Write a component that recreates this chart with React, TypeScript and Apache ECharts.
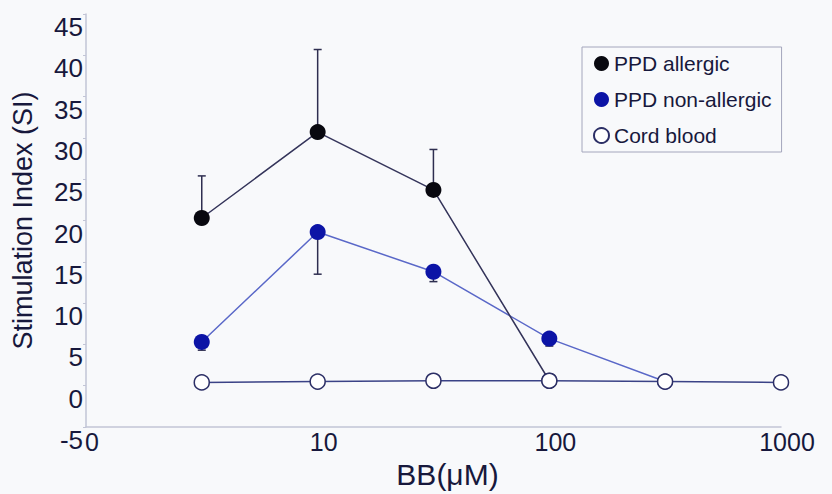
import React, { useEffect, useRef } from "react";
import * as echarts from "echarts";

const concentrations = [3.16, 10, 31.6, 100, 316, 1000];
const allergic = [20.3, 30.7, 23.7, 0.6];
const allergicErr = [5.1, 10.0, 4.9, 0];
const nonAllergic = [5.3, 18.6, 13.8, 5.7, 0.5];
const nonAllergicErr = [1.0, 5.1, 1.2, 0.9, 0];
const cord = [0.4, 0.5, 0.6, 0.6, 0.5, 0.4];
const yTicks = { min: -5, max: 45, step: 5 };

const TEXT = "#17183c";
const FONT = "Liberation Sans";

function errorSeries(vals: number[], errs: number[], dir: number, color: string, z: number) {
  const data = vals.map((v, i) => [concentrations[i], v, v + dir * errs[i]]).filter((d, i) => errs[i] > 0);
  return {
    type: "custom",
    silent: true,
    z,
    data,
    encode: { x: 0, y: [1, 2] },
    renderItem: (params: any, api: any) => {
      const x = api.value(0);
      const p0 = api.coord([x, api.value(1)]);
      const p1 = api.coord([x, api.value(2)]);
      const cap = 4;
      return {
        type: "group",
        children: [
          { type: "line", shape: { x1: p0[0], y1: p0[1], x2: p1[0], y2: p1[1] }, style: { stroke: color, lineWidth: 1.5 } },
          { type: "line", shape: { x1: p1[0] - cap, y1: p1[1], x2: p1[0] + cap, y2: p1[1] }, style: { stroke: color, lineWidth: 1.5 } },
        ],
      };
    },
  };
}

export default function App() {
  const ref = useRef<HTMLDivElement>(null);
  useEffect(() => {
    document.body.style.margin = "0";
    const chart = echarts.init(ref.current!, undefined, { renderer: "svg" });
    chart.setOption({
      animation: false,
      backgroundColor: "#f8f9fb",
      textStyle: { fontFamily: FONT, color: TEXT },
      grid: { left: 86, right: 51, top: 14, bottom: 67, containLabel: false },
      legend: {
        orient: "vertical",
        left: 582,
        top: 47,
        width: 196,
        padding: [6, 10, 6, 11],
        itemGap: 15,
        itemWidth: 15,
        itemHeight: 15,
        icon: "circle",
        borderColor: "#a4a6bc",
        borderWidth: 1,
        backgroundColor: "#f8f9fb",
        textStyle: { fontFamily: FONT, fontSize: 21, color: TEXT, padding: [0, 4, 0, 0] },
        data: ["PPD allergic", "PPD non-allergic", "Cord blood"],
      },
      xAxis: {
        type: "log",
        logBase: 10,
        min: 1,
        max: 1000,
        name: "BB(\u03bcM)",
        nameLocation: "middle",
        nameGap: 32,
        nameTextStyle: { fontFamily: FONT, fontSize: 30, color: TEXT, padding: [0, 0, 0, 28] },
        axisLine: { show: true, onZero: false, lineStyle: { color: "#c2c5d6", width: 1.5 } },
        axisTick: { show: false },
        splitLine: { show: false },
        minorTick: { show: false },
        axisLabel: {
          fontFamily: FONT,
          fontSize: 25,
          color: TEXT,
          margin: 2,
          padding: [0, 0, 0, 12],
          formatter: (v: number) => (Math.abs(v - 1) < 1e-9 ? "0" : String(Math.round(v))),
        },
      },
      yAxis: {
        type: "value",
        min: yTicks.min,
        max: yTicks.max,
        interval: yTicks.step,
        name: "Stimulation Index (SI)",
        nameLocation: "middle",
        nameGap: 50,
        nameTextStyle: { fontFamily: FONT, fontSize: 27, color: TEXT },
        axisLine: { show: true, lineStyle: { color: "#c2c5d6", width: 1.5 } },
        axisTick: { show: true, length: 3, lineStyle: { color: "#c2c5d6" } },
        splitLine: { show: false },
        axisLabel: { fontFamily: FONT, fontSize: 26, color: TEXT, margin: 3, verticalAlign: "top" },
      },
      series: [
        errorSeries(allergic, allergicErr, 1, "#2e2e50", 1),
        errorSeries(nonAllergic, nonAllergicErr, -1, "#2e2e50", 1),
        {
          name: "PPD non-allergic",
          type: "line",
          z: 3,
          data: nonAllergic.map((v, i) => [concentrations[i], v]),
          symbol: "circle",
          symbolSize: 16,
          lineStyle: { color: "#5a68c8", width: 1.5 },
          itemStyle: { color: "#0c14a6", borderWidth: 0 },
        },
        {
          name: "PPD allergic",
          type: "line",
          z: 4,
          data: allergic.map((v, i) => [concentrations[i], v]),
          symbol: "circle",
          symbolSize: 16,
          lineStyle: { color: "#34345a", width: 1.5 },
          itemStyle: { color: "#08080f", borderWidth: 0 },
        },
        {
          name: "Cord blood",
          type: "line",
          z: 5,
          data: cord.map((v, i) => [concentrations[i], v]),
          symbol: "circle",
          symbolSize: 15,
          lineStyle: { color: "#3a4286", width: 1.5 },
          itemStyle: { color: "#ffffff", borderColor: "#2c2f66", borderWidth: 1.5 },
        },
      ],
    });
    return () => chart.dispose();
  }, []);
  return <div ref={ref} style={{ width: 832, height: 494 }} />;
}
